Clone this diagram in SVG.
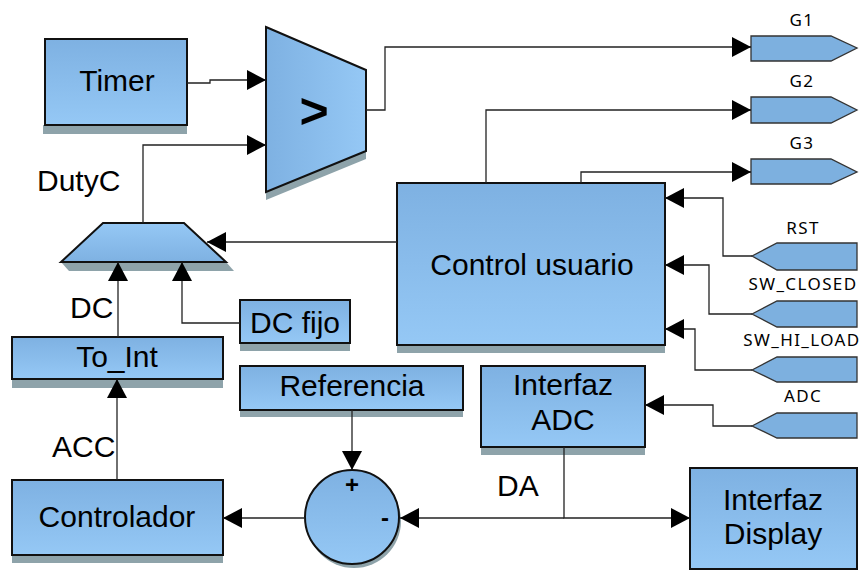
<svg xmlns="http://www.w3.org/2000/svg" width="866" height="571" viewBox="0 0 866 571">
  <defs>
    <linearGradient id="fillV" x1="0" y1="0" x2="0" y2="1">
      <stop offset="0" stop-color="#7eb1e2"/>
      <stop offset="1" stop-color="#95c8f5"/>
    </linearGradient>
    <linearGradient id="fillVr" x1="0" y1="1" x2="0" y2="0">
      <stop offset="0" stop-color="#7eb1e2"/>
      <stop offset="1" stop-color="#95c8f5"/>
    </linearGradient>
    <linearGradient id="fillH" x1="0" y1="0" x2="1" y2="0">
      <stop offset="0" stop-color="#7eb1e2"/>
      <stop offset="1" stop-color="#95c8f5"/>
    </linearGradient>
    <marker id="arr" viewBox="0 0 10 10" refX="10" refY="5" markerWidth="19" markerHeight="20" markerUnits="userSpaceOnUse" orient="auto" preserveAspectRatio="none">
      <path d="M0,0 L10,5 L0,10 Z" fill="#000"/>
    </marker>
  </defs>
  <style>
    .blk { fill: url(#fillV); stroke: #111; stroke-width: 2; }
    .shd { fill: #8ea3aa; }
    .port { fill: #7db0df; stroke: #333; stroke-width: 1.3; }
    .wa { fill: none; stroke: #222; stroke-width: 1.3; marker-end: url(#arr); }
    .t { font-family: "Liberation Sans", Arial, sans-serif; font-size: 30px; fill: #000; text-anchor: middle; }
    .lbl { font-family: "Liberation Sans", Arial, sans-serif; font-size: 30px; fill: #000; }
    .pl { font-family: "Noto Sans", "Open Sans", sans-serif; font-size: 17px; letter-spacing: 1.4px; fill: #000; text-anchor: middle; }
  </style>

  <rect width="866" height="571" fill="#fff"/>

  <!-- Timer -->
  <g id="timer">
    <rect class="shd" x="43" y="125" width="144" height="9"/>
    <rect class="blk" x="45" y="39" width="142" height="86"/>
    <text class="t" x="117" y="91" font-size="31">Timer</text>
  </g>

  <!-- comparator -->
  <g id="comparador">
    <polygon class="shd" points="266,192 366,151 366,159 266,200"/>
    <polygon points="266,27 366,70 366,151 266,192" fill="url(#fillH)" stroke="#111" stroke-width="2"/>
    <text x="314" y="128" font-family="Liberation Sans, Arial, sans-serif" font-size="50" font-weight="bold" text-anchor="middle">&gt;</text>
  </g>

  <text class="lbl" x="37" y="191">DutyC</text>

  <!-- selector -->
  <g id="selector">
    <polygon class="shd" points="61,262 226,262 234,271 69,271"/>
    <polygon points="103,223 184,223 226,262 61,262" fill="url(#fillVr)" stroke="#111" stroke-width="2"/>
  </g>

  <text class="lbl" x="70" y="318">DC</text>

  <!-- DC fijo -->
  <g id="dc-fijo">
    <rect class="shd" x="240" y="343" width="110" height="8"/>
    <rect class="blk" x="240" y="300" width="110" height="43"/>
    <text class="t" x="295" y="333">DC fijo</text>
  </g>

  <!-- To_Int -->
  <g id="to-int">
    <rect class="shd" x="12" y="379" width="211" height="9"/>
    <rect class="blk" x="12" y="337" width="211" height="42"/>
    <text class="t" x="117" y="367">To_Int</text>
  </g>

  <text class="lbl" x="52" y="457">ACC</text>

  <!-- Controlador -->
  <g id="controlador">
    <rect class="shd" x="12" y="555" width="211" height="8"/>
    <rect class="blk" x="12" y="480" width="211" height="75"/>
    <text class="t" x="117" y="527">Controlador</text>
  </g>

  <!-- Referencia -->
  <g id="referencia">
    <rect class="shd" x="240" y="410" width="223" height="7"/>
    <rect class="blk" x="240" y="366" width="223" height="44"/>
    <text class="t" x="352" y="396">Referencia</text>
  </g>

  <!-- summing junction -->
  <g id="suma">
    <circle class="shd" cx="354" cy="521" r="47"/>
    <circle cx="352" cy="517" r="47" fill="url(#fillV)" stroke="#111" stroke-width="2"/>
    <text x="352" y="493" font-family="Liberation Sans, Arial, sans-serif" font-size="24" font-weight="bold" text-anchor="middle">+</text>
    <text x="385" y="526" font-family="Liberation Sans, Arial, sans-serif" font-size="24" font-weight="bold" text-anchor="middle">-</text>
  </g>

  <!-- Interfaz ADC -->
  <g id="interfaz-adc">
    <rect class="shd" x="481" y="447" width="164" height="8"/>
    <rect class="blk" x="481" y="366" width="164" height="81"/>
    <text class="t" x="563" y="395" font-size="29">Interfaz</text>
    <text class="t" x="563" y="430" font-size="29">ADC</text>
  </g>

  <text class="lbl" x="497" y="496">DA</text>

  <!-- Interfaz Display -->
  <g id="interfaz-display">
    <rect class="blk" x="690" y="468" width="167" height="101"/>
    <text class="t" x="773" y="510" font-size="29">Interfaz</text>
    <text class="t" x="773" y="544" font-size="29">Display</text>
  </g>

  <!-- Control usuario -->
  <g id="control-usuario">
    <rect class="shd" x="397" y="345" width="268" height="8"/>
    <rect class="blk" x="397" y="183" width="268" height="162"/>
    <text class="t" x="532" y="275">Control usuario</text>
  </g>

  <!-- output ports -->
  <g id="g1">
    <polygon class="port" points="751,36 831,36 857,48 831,61 751,61"/>
    <text class="pl" x="802" y="26">G1</text>
  </g>
  <g id="g2">
    <polygon class="port" points="751,97 831,97 857,110 831,123 751,123"/>
    <text class="pl" x="802" y="87">G2</text>
  </g>
  <g id="g3">
    <polygon class="port" points="751,159 831,159 857,172 831,184 751,184"/>
    <text class="pl" x="802" y="149">G3</text>
  </g>

  <!-- input ports -->
  <g id="rst">
    <polygon class="port" points="752,256 777,243 857,243 857,270 777,270"/>
    <text class="pl" x="803" y="234">RST</text>
  </g>
  <g id="sw-closed">
    <polygon class="port" points="752,314 777,301 857,301 857,327 777,327"/>
    <text class="pl" x="803" y="290">SW_CLOSED</text>
  </g>
  <g id="sw-hi-load">
    <polygon class="port" points="752,370 777,357 857,357 857,382 777,382"/>
    <text class="pl" x="802" y="346">SW_HI_LOAD</text>
  </g>
  <g id="adc">
    <polygon class="port" points="752,426 777,413 857,413 857,438 777,438"/>
    <text class="pl" x="803" y="402">ADC</text>
  </g>

  <!-- connectors -->
  <g id="connectors">
    <path class="wa" d="M187,83 H210 V80 H266"/>
    <path class="wa" d="M143,223 V145 H266"/>
    <path class="wa" d="M366,110 H385 V47 H751"/>
    <path class="wa" d="M486,183 V110 H751"/>
    <path class="wa" d="M581,183 V172 H751"/>
    <path class="wa" d="M397,242 H207"/>
    <path class="wa" d="M118,337 V262"/>
    <path class="wa" d="M240,323 H182 V262"/>
    <path class="wa" d="M117,480 V379"/>
    <path class="wa" d="M752,256 H723 V198 H665"/>
    <path class="wa" d="M752,314 H709 V265 H665"/>
    <path class="wa" d="M752,370 H695 V329 H665"/>
    <path class="wa" d="M752,426 H713 V405 H645"/>
    <path class="wa" d="M352,410 V470"/>
    <path class="wa" d="M305,518 H223"/>
    <path class="wa" d="M564,518 H400"/>
    <path class="wa" d="M564,447 V518 H690"/>
  </g>
</svg>
